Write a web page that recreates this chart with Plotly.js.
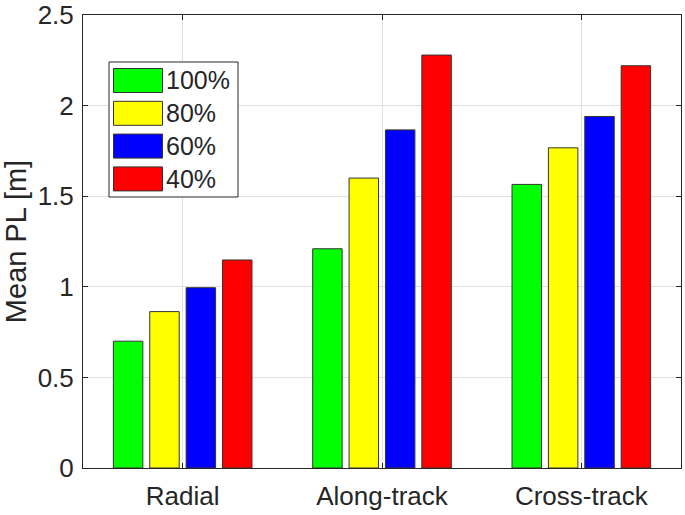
<!DOCTYPE html>
<html>
<head>
<meta charset="utf-8">
<script src="https://cdn.plot.ly/plotly-3.0.1.min.js"></script>
<style>
  html, body { margin: 0; padding: 0; background: #fff; }
  #chart { width: 685px; height: 515px; }
</style>
</head>
<body>
<div id="chart"></div>
<script>
let categories = ["Radial", "Along-track", "Cross-track"];
let seriesNames = ["100%", "80%", "60%", "40%"];
let seriesColors = ["#00ff00", "#ffff00", "#0000ff", "#ff0000"];
let pct100 = [0.70, 1.21, 1.565];
let pct80 = [0.863, 1.60, 1.767];
let pct60 = [0.995, 1.866, 1.94];
let pct40 = [1.148, 2.279, 2.22];
let seriesValues = [pct100, pct80, pct60, pct40];
let yTicks = [0, 0.5, 1, 1.5, 2, 2.5];
let yTickText = ["0", "0.5", "1", "1.5", "2", "2.5"];

let textColor = "#262626";
let fontFamily = "Liberation Sans, Arial, sans-serif";

let data = [];
for (let i = 0; i < seriesNames.length; i++) {
  data.push({
    type: "bar",
    name: seriesNames[i],
    x: categories,
    y: seriesValues[i],
    marker: { color: seriesColors[i], line: { color: "#333333", width: 1 } },
    showlegend: false,
    hoverinfo: "skip"
  });
}

let margin = { l: 83, r: 4, t: 15, b: 47 };

// hand-made legend so the swatches can be wide like the original
let plotW = 685 - margin.l - margin.r;
let plotH = 515 - margin.t - margin.b;
let shapes = [];
let annotations = [];
let px = (x) => (x - margin.l) / plotW;
let py = (y) => (515 - margin.b - y) / plotH;

shapes.push({
  type: "rect", xref: "paper", yref: "paper", layer: "above",
  x0: px(109), x1: px(238), y0: py(197), y1: py(62),
  fillcolor: "#ffffff", line: { color: textColor, width: 1 }
});
for (let i = 0; i < seriesNames.length; i++) {
  let top = 68.5 + i * 32.8;
  shapes.push({
    type: "rect", xref: "paper", yref: "paper", layer: "above",
    x0: px(113.5), x1: px(162.5), y0: py(top + 24), y1: py(top),
    fillcolor: seriesColors[i], line: { color: "#333333", width: 1 }
  });
  annotations.push({
    xref: "paper", yref: "paper", x: px(164), y: py(top + 12),
    xanchor: "left", yanchor: "middle", showarrow: false,
    text: seriesNames[i], font: { family: fontFamily, size: 25, color: textColor }
  });
}

let layout = {
  width: 685,
  height: 515,
  margin: margin,
  paper_bgcolor: "#ffffff",
  plot_bgcolor: "#ffffff",
  font: { family: fontFamily, size: 26, color: textColor },
  barmode: "group",
  bargap: 0.27,
  bargroupgap: 0.19,
  xaxis: {
    type: "category",
    range: [-0.5, 2.5],
    ticks: "inside", ticklen: 5, tickcolor: textColor,
    showline: true, linecolor: textColor, linewidth: 1, mirror: "ticks",
    showgrid: true, gridcolor: "#dfdfdf", gridwidth: 1,
    tickfont: { size: 26, color: textColor },
    ticklabelstandoff: 5,
    fixedrange: true
  },
  yaxis: {
    range: [0, 2.5],
    tickmode: "array",
    tickvals: yTicks,
    ticktext: yTickText,
    ticks: "inside", ticklen: 5, tickcolor: textColor,
    showline: true, linecolor: textColor, linewidth: 1, mirror: "ticks",
    showgrid: true, gridcolor: "#dfdfdf", gridwidth: 1,
    zeroline: false,
    tickfont: { size: 26, color: textColor },
    ticklabelstandoff: 3,
    ticklabeloverflow: "allow",
    title: { text: "Mean PL [m]", font: { size: 29, color: textColor }, standoff: 8 },
    fixedrange: true
  },
  shapes: shapes,
  annotations: annotations
};

Plotly.newPlot("chart", data, layout, { displayModeBar: false, staticPlot: true });
</script>
</body>
</html>
